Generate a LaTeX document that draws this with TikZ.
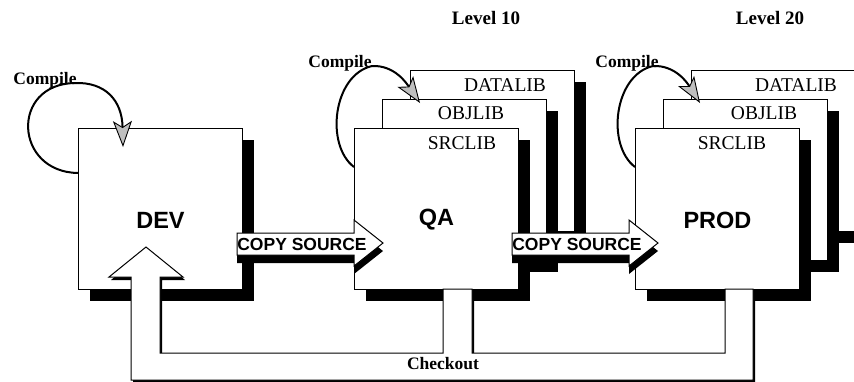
\documentclass[tikz,border=0pt]{standalone}
\usepackage{fontspec}
\setmainfont{Liberation Serif}
\newfontfamily\arialfont{Liberation Sans}
\usetikzlibrary{arrows.meta, calc, shadows}

\begin{document}
\begin{tikzpicture}[x=1pt, y=-1pt,
    box/.style={draw, line width=1pt, fill=white, anchor=north west, inner sep=0pt,
      minimum width=164pt, minimum height=161pt,
      drop shadow={shadow xshift=11pt, shadow yshift=-11pt, fill=black, opacity=1}},
    lib/.style={font=\fontsize{19.5}{22}\selectfont, inner sep=0pt},
    big/.style={font=\arialfont\bfseries\fontsize{23.5}{26}\selectfont, inner sep=0pt},
    cp/.style={font=\arialfont\bfseries\fontsize{17.5}{20}\selectfont, inner sep=0pt},
    cmp/.style={font=\bfseries\fontsize{17.5}{20}\selectfont, inner sep=0pt},
    lvl/.style={font=\bfseries\fontsize{19}{22}\selectfont, inner sep=0pt},
    cmploop/.style={line width=2pt, -{Stealth[length=26pt, width=19pt, inset=6pt, fill=gray!50, line width=0.9pt]}},
    blockarrow/.style={draw, line width=1pt, fill=white},
    ]
    \useasboundingbox (0,0) rectangle (854,381);

    % Levels
    \node[lvl] (lvl10) at (486,18) {Level 10};
    \node[lvl] (lvl20) at (770,18) {Level 20};

    % DEV
    \node[box] (dev) at (78,128) {};
    \node[big] (devlbl) at ([yshift=-11pt]dev.center) {DEV};

    % QA libraries
    \node[box] (qadata) at (410,70) {};
    \node[box] (qaobj) at (382,99) {};
    \node[box] (qasrc) at (354,128) {};
    \node[lib] at (505,85) {DATALIB};
    \node[lib] at (471,113) {OBJLIB};
    \node[lib] at (462,143) {SRCLIB};
    \node[big] (qalbl) at ([yshift=-11pt]qasrc.center) {QA};

    % PROD libraries
    \node[box] (proddata) at (691,70) {};
    \node[box] (prodobj) at (663,99) {};
    \node[box] (prodsrc) at (635,128) {};
    \node[lib] at (796,85) {DATALIB};
    \node[lib] at (764,113) {OBJLIB};
    \node[lib] at (732,143) {SRCLIB};
    \node[big] (prodlbl) at ([yshift=-11pt]prodsrc.center) {PROD};

    % Copy source arrows
    \foreach \sx in {0,275} {
      \fill[black, shift={(\sx,8)}] (237,233) -- (354,233) -- (354,220) -- (383,243)
        -- (354,266) -- (354,255) -- (237,255) -- cycle;
      \draw[blockarrow, shift={(\sx,0)}] (237,233) -- (354,233) -- (354,220) -- (383,243)
        -- (354,266) -- (354,255) -- (237,255) -- cycle;
    }
    \node[cp] (copy1) at (302,244) {COPY SOURCE};
    \node[cp] (copy2) at (577,244) {COPY SOURCE};

    % Checkout arrow
    \fill[black, shift={(2,3)}] (146,247) -- (183,277) -- (160,277) -- (160,353) -- (443,353)
      -- (443,289) -- (472,289) -- (472,353) -- (725,353) -- (725,289) -- (753,289)
      -- (753,380) -- (131,380) -- (131,277) -- (109,277) -- cycle;
    \draw[blockarrow] (146,247) -- (183,277) -- (160,277) -- (160,353) -- (443,353)
      -- (443,289) -- (472,289) -- (472,353) -- (725,353) -- (725,289) -- (753,289)
      -- (753,380) -- (131,380) -- (131,277) -- (109,277) -- cycle;
    \node[cmp] (checkout) at (443,364) {Checkout};

    % Compile loops
    \draw[cmploop] (dev.north west) ++(0,45) .. controls (14,172) and (10,84) .. (75,83)
      .. controls (105,82) and (122,100) .. ($(dev.north west)+(45,19)$);
    \draw[cmploop] (qasrc.north west) ++(0,39) .. controls (325,145) and (333,75) .. (372,66)
      .. controls (395,65) and (407,84) .. ($(qasrc.north west)+(66,-25)$);
    \draw[cmploop] (prodsrc.north west) ++(0,39) .. controls (606,145) and (614,75) .. (653,66)
      .. controls (676,65) and (688,84) .. ($(prodsrc.north west)+(65,-25)$);
    \node[cmp] (cmpdev) at (45,80) {Compile};
    \node[cmp] (cmpqa) at (340,63) {Compile};
    \node[cmp] (cmpprod) at (627,63) {Compile};
\end{tikzpicture}
\end{document}
